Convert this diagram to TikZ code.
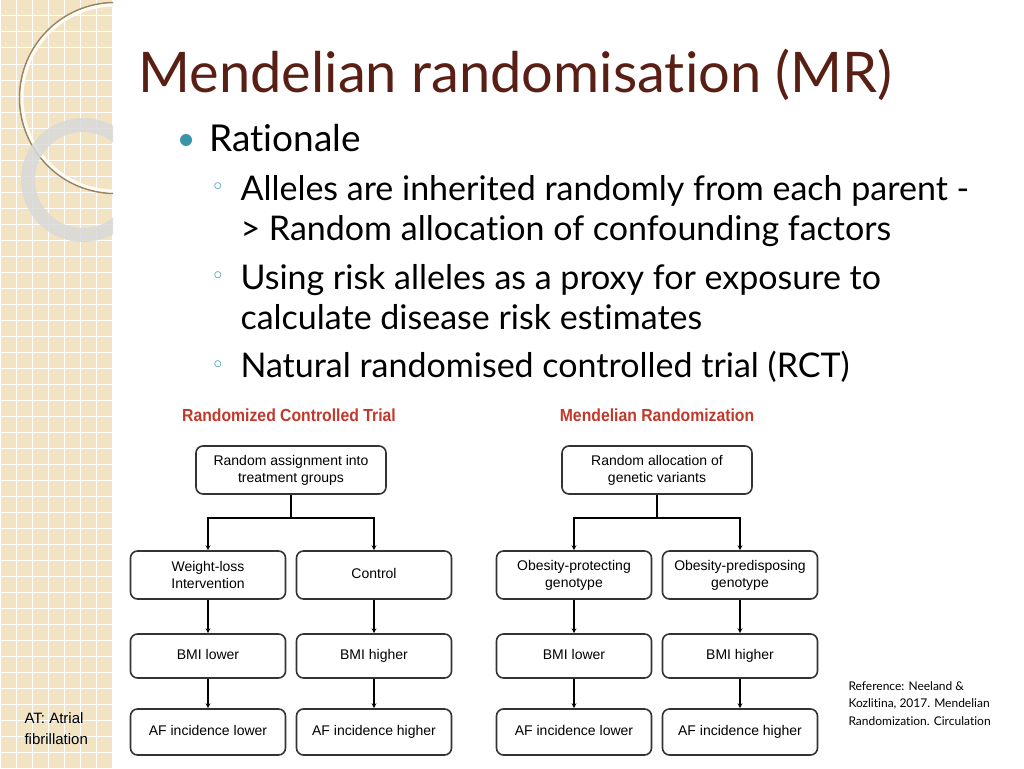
\documentclass[tikz,border=0pt]{standalone}
\usepackage{fontspec}
\setmainfont[Ligatures=NoCommon]{Lato}
\setsansfont{Liberation Sans}
\usetikzlibrary{positioning}
\definecolor{titlebrown}{HTML}{5A1F14}
\definecolor{headred}{HTML}{C0392B}
\definecolor{bullteal}{HTML}{3A94A8}
\definecolor{stripbg}{HTML}{F2E4C2}
\definecolor{boxline}{HTML}{333333}
\tikzset{
    flowbox/.style={rectangle, rounded corners=7pt, draw=boxline, line width=1.6pt,
        minimum width=155pt, minimum height=48pt, align=center,
        font=\sffamily\fontsize{14}{17}\selectfont},
    onerow/.style={flowbox, text height=10pt, text depth=3pt},
    topbox/.style={flowbox, minimum width=190pt},
    flowarrow/.style={line width=1.2pt, ->, >=stealth},
    flowline/.style={line width=1.2pt},
    heading/.style={font=\sffamily\bfseries\fontsize{17.5}{20}\selectfont, text=headred, xscale=0.9},
    bodytext/.style={anchor=base west, font=\fontsize{34}{40}\selectfont},
}
\begin{document}
\begin{tikzpicture}[x=1pt, y=-1pt]
\useasboundingbox (0,0) rectangle (1024,768);
% left strip
\fill[stripbg] (0,0) rectangle (113,768);
\foreach \g in {0,16,...,112} \draw[white, line width=1pt] (\g,0) -- (\g,768);
\foreach \g in {0,16,...,768} \draw[white, line width=1pt] (0,\g) -- (113,\g);
\begin{scope}
\clip (0,0) rectangle (113,768);
\draw[brown!40!stripbg!70!black, line width=1.5pt] (115,98) circle (95.5);
\draw[white!85!stripbg, line width=3pt] (115,98) circle (93);
\draw[gray!30, line width=14pt, opacity=0.85] (83,180) circle (55);
\end{scope}
% title and bullets
\node[anchor=base west, text=titlebrown, font=\fontsize{56}{62}\selectfont] (title) at (135,92) {Mendelian randomisation (MR)};
\fill[bullteal] (186,140) circle (6);
\node[bodytext, font=\fontsize{37}{44}\selectfont] (rationale) at (206,151) {Rationale};
\foreach \y in {190,279,368} \node[anchor=base, font=\fontsize{18}{20}\selectfont, text=bullteal] at (218,\y) {$\circ$};
\node[bodytext] (l1) at (237,200) {Alleles are inherited randomly from each parent -};
\node[bodytext] (l2) at (237,240) {> Random allocation of confounding factors};
\node[bodytext] (l3) at (237,289) {Using risk alleles as a proxy for exposure to};
\node[bodytext] (l4) at (237,329) {calculate disease risk estimates};
\node[bodytext] (l5) at (237,377) {Natural randomised controlled trial (RCT)};
% RCT
\node[heading] (rcthead) at (289,415) {Randomized Controlled Trial};
\node[topbox] (rcttop) at (291,470) {Random assignment into\\treatment groups};
\node[flowbox] (rcta) at (208,575) {Weight-loss\\Intervention};
\node[onerow] (rctb) at (374,575) {Control};
\node[onerow, minimum height=44pt] (rctc) at (208,656) {BMI lower};
\node[onerow, minimum height=44pt] (rctd) at (374,656) {BMI higher};
\node[onerow, minimum height=46pt] (rcte) at (208,732) {AF incidence lower};
\node[onerow, minimum height=46pt] (rctf) at (374,732) {AF incidence higher};
\coordinate (rctsplit) at (291,518);
\draw[flowline] (rcttop) -- (rctsplit);
\draw[flowarrow] (rctsplit) -| (rcta);
\draw[flowarrow] (rctsplit) -| (rctb);
\draw[flowarrow] (rcta) -- (rctc);
\draw[flowarrow] (rctb) -- (rctd);
\draw[flowarrow] (rctc) -- (rcte);
\draw[flowarrow] (rctd) -- (rctf);
% MR
\node[heading] (mrhead) at (657,415) {Mendelian Randomization};
\node[topbox] (mrtop) at (657,470) {Random allocation of\\genetic variants};
\node[flowbox] (mra) at (574,575) {Obesity-protecting\\genotype};
\node[flowbox] (mrb) at (740,575) {Obesity-predisposing\\genotype};
\node[onerow, minimum height=44pt] (mrc) at (574,656) {BMI lower};
\node[onerow, minimum height=44pt] (mrd) at (740,656) {BMI higher};
\node[onerow, minimum height=46pt] (mre) at (574,732) {AF incidence lower};
\node[onerow, minimum height=46pt] (mrf) at (740,732) {AF incidence higher};
\coordinate (mrsplit) at (657,518);
\draw[flowline] (mrtop) -- (mrsplit);
\draw[flowarrow] (mrsplit) -| (mra);
\draw[flowarrow] (mrsplit) -| (mrb);
\draw[flowarrow] (mra) -- (mrc);
\draw[flowarrow] (mrb) -- (mrd);
\draw[flowarrow] (mrc) -- (mre);
\draw[flowarrow] (mrd) -- (mrf);
% notes
\node[anchor=north west, align=left, font=\sffamily\fontsize{15}{21}\selectfont] (atnote) at (21,709) {AT: Atrial\\fibrillation};
\node[anchor=north west, align=left, font=\fontsize{12}{17.5}\selectfont] (refnote) at (845,678) {Reference: Neeland \&\\Kozlitina, 2017. Mendelian\\Randomization. Circulation};
\end{tikzpicture}
\end{document}
